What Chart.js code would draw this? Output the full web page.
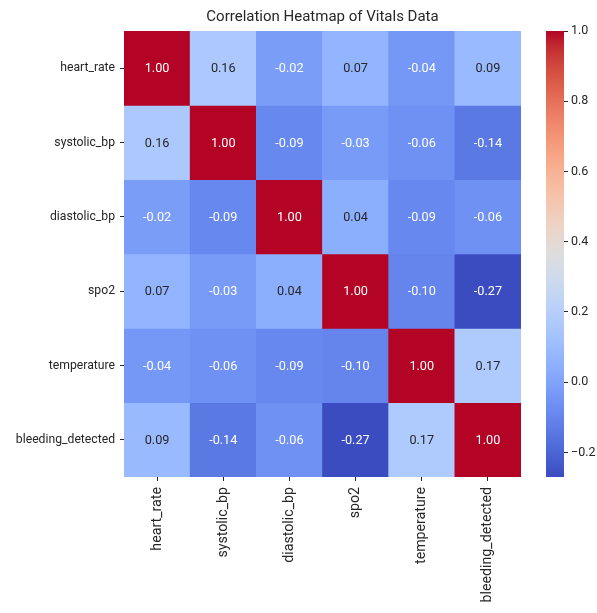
<!DOCTYPE html>
<html>
<head>
<meta charset="utf-8">
<script src="https://cdn.jsdelivr.net/npm/chart.js@4"></script>
<style>
  body { margin: 0; background: #fff; }
  #wrap { position: relative; width: 597px; height: 613px; }
  #heat { position: absolute; left: 0; top: 0; }
  #cbar { position: absolute; left: 500px; top: 0; }
</style>
</head>
<body>
<div id="wrap">
  <canvas id="heat" width="597" height="613"></canvas>
  <canvas id="cbar" width="97" height="613"></canvas>
</div>
<script>
// Variables (rows and columns of the matrix)
const variables = ["heart_rate", "systolic_bp", "diastolic_bp", "spo2", "temperature", "bleeding_detected"];

// Correlation values, one row per variable
const heartRateRow = [1.00, 0.16, -0.02, 0.07, -0.04, 0.09];
const systolicRow = [0.16, 1.00, -0.09, -0.03, -0.06, -0.14];
const diastolicRow = [-0.02, -0.09, 1.00, 0.04, -0.09, -0.06];
const spo2Row = [0.07, -0.03, 0.04, 1.00, -0.10, -0.27];
const temperatureRow = [-0.04, -0.06, -0.09, -0.10, 1.00, 0.17];
const bleedingRow = [0.09, -0.14, -0.06, -0.27, 0.17, 1.00];
const matrix = [heartRateRow, systolicRow, diastolicRow, spo2Row, temperatureRow, bleedingRow];

// Colorbar tick labels
const cbarTicks = [-0.2, 0.0, 0.2, 0.4, 0.6, 0.8, 1.0];

const vmin = Math.min(...matrix.flat());
const vmax = Math.max(...matrix.flat());

// coolwarm colormap control points
const coolwarm = [
  [59,76,192],[68,90,204],[77,104,215],[87,117,225],[98,130,234],[108,142,241],
  [119,154,247],[130,165,251],[141,176,254],[152,185,255],[163,194,255],[174,201,253],
  [184,208,249],[194,213,244],[204,217,238],[213,219,230],[221,221,221],[229,216,209],
  [236,211,197],[241,204,184],[245,196,172],[247,187,159],[247,177,147],[247,166,134],
  [244,154,123],[241,141,111],[236,127,99],[229,112,88],[222,96,77],[213,80,66],
  [203,62,56],[192,40,47],[180,4,38]
];

function cmapRgb(v) {
  let t = (v - vmin) / (vmax - vmin);
  t = Math.max(0, Math.min(1, t));
  const f = t * (coolwarm.length - 1);
  const k = Math.min(Math.floor(f), coolwarm.length - 2);
  const r = f - k;
  return coolwarm[k].map((c, n) => Math.round(c + (coolwarm[k + 1][n] - c) * r));
}
const rgbStr = c => `rgb(${c[0]},${c[1]},${c[2]})`;

// same rule seaborn uses to pick annotation colour
function textColor(v) {
  const lin = cmapRgb(v).map(c => {
    c /= 255;
    return c <= 0.03928 ? c / 12.92 : Math.pow((c + 0.055) / 1.055, 2.4);
  });
  const lum = 0.2126 * lin[0] + 0.7152 * lin[1] + 0.0722 * lin[2];
  return lum > 0.408 ? "#262626" : "#ffffff";
}

const FONT = "Roboto, sans-serif";
Chart.defaults.font.family = FONT;
Chart.defaults.color = "#262626";

// write the value into each cell
const cellLabels = {
  id: "cellLabels",
  afterDatasetsDraw(chart) {
    const ctx = chart.ctx;
    ctx.save();
    ctx.font = "12.7px " + FONT;
    ctx.textAlign = "center";
    ctx.textBaseline = "middle";
    chart.data.datasets.forEach((ds, i) => {
      chart.getDatasetMeta(i).data.forEach((bar, j) => {
        const v = matrix[i][j];
        ctx.fillStyle = textColor(v);
        ctx.fillText(v.toFixed(2), bar.x, (bar.y + bar.base) / 2 + 1);
      });
    });
    ctx.restore();
  }
};

const tickGrid = {
  display: true,
  drawOnChartArea: false,
  drawTicks: true,
  tickLength: 4,
  offset: false,
  color: "#262626",
};

new Chart(document.getElementById("heat"), {
  type: "bar",
  data: {
    labels: variables,
    datasets: matrix.map((row, i) => ({
      label: variables[i],
      data: row.map(() => [i, i + 1]),
      backgroundColor: row.map(v => rgbStr(cmapRgb(v))),
      borderWidth: 0,
      barPercentage: 1,
      categoryPercentage: 1,
    })),
  },
  options: {
    responsive: false,
    animation: false,
    layout: { padding: { left: 0, right: 76, top: 0, bottom: 0 } },
    plugins: {
      legend: { display: false },
      tooltip: { enabled: false },
      title: {
        display: true,
        text: "Correlation Heatmap of Vitals Data",
        fullSize: false,
        font: { size: 15, weight: "normal" },
        color: "#262626",
        padding: { top: 8, bottom: 5 },
      },
    },
    scales: {
      x: {
        stacked: true,
        grid: tickGrid,
        border: { display: false },
        ticks: { autoSkip: false, maxRotation: 90, minRotation: 90, padding: 6, font: { size: 14.2 } },
        afterFit: s => { s.height = 136; },
      },
      y: {
        type: "linear",
        min: 0,
        max: 6,
        reverse: true,
        grid: tickGrid,
        border: { display: false },
        afterBuildTicks: s => { s.ticks = variables.map((_, i) => ({ value: i + 0.5 })); },
        ticks: { autoSkip: false, padding: 5, font: { size: 12.2 }, callback: (v, idx) => variables[idx] },
        afterFit: s => { s.width = 124; },
      },
    },
  },
  plugins: [cellLabels],
});

// colorbar
new Chart(document.getElementById("cbar"), {
  type: "bar",
  data: {
    labels: [""],
    datasets: [{
      data: [[vmin, vmax]],
      borderWidth: 0,
      barPercentage: 1,
      categoryPercentage: 1,
      backgroundColor: c => {
        const area = c.chart.chartArea;
        if (!area) return null;
        const g = c.chart.ctx.createLinearGradient(0, area.bottom, 0, area.top);
        coolwarm.forEach((rgb, k) => g.addColorStop(k / (coolwarm.length - 1), rgbStr(rgb)));
        return g;
      },
    }],
  },
  options: {
    responsive: false,
    animation: false,
    layout: { padding: { left: 46, right: 0, top: 31, bottom: 136 } },
    plugins: { legend: { display: false }, tooltip: { enabled: false } },
    scales: {
      x: { display: false },
      y: {
        position: "right",
        min: vmin,
        max: vmax,
        grid: tickGrid,
        border: { display: false },
        afterBuildTicks: s => { s.ticks = cbarTicks.map(v => ({ value: v })); },
        ticks: {
          padding: 3,
          font: { size: 12.5 },
          callback: v => (v < 0 ? "\u2212" + Math.abs(v).toFixed(1) : v.toFixed(1)),
        },
        afterFit: s => { s.width = 33; },
      },
    },
  },
});
</script>
</body>
</html>
